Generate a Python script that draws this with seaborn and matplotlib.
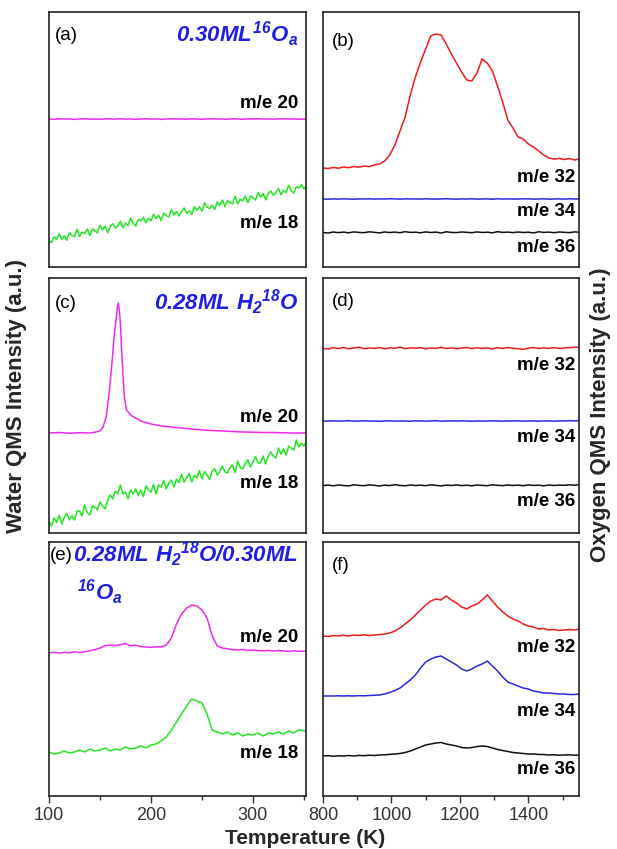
import matplotlib
matplotlib.use("Agg")
import matplotlib.pyplot as plt
import seaborn as sns

# ---------------- data (arbitrary intensity units, 0..255 per panel) ----------------
temp_water = list(range(100, 350, 5)) + [352]
temp_water_fine = [x / 2 for x in range(200, 701, 5)] + [352]
temp_oxy = list(range(800, 1540, 15)) + [1548]

a_m20 = [148.0,147.7,148.2,147.9,148.1,147.6,148.0,148.3,147.8,148.0,
         147.7,148.2,148.0,147.9,148.3,147.8,148.1,147.7,148.0,148.2,
         147.9,148.1,147.6,148.0,148.3,147.9,148.0,147.8,148.2,148.0,
         147.7,148.1,148.3,147.9,148.0,147.8,148.2,148.0,147.7,148.1,
         148.0,148.3,147.9,148.0,147.8,148.1,148.2,147.9,148.0,147.8,
         148.0]
a_m18 = [27,24.5,30.1,27.6,33.1,27.7,31.2,26.7,34.2,31.8,
         30.3,37.8,30.4,34.9,33.4,38.0,31.5,38.0,36.5,34.1,
         41.6,37.1,40.7,34.2,40.7,43.3,38.8,41.3,45.8,39.4,
         43.9,41.4,49.0,43.5,41.0,47.6,46.1,49.6,44.1,48.7,
         46.2,52.7,48.3,51.8,46.3,53.9,51.4,49.9,57.4,52.0,
         55.5,51.0,55.6,59.1,53.6,56.2,52.7,60.2,56.7,60.3,
         55.8,64.3,59.9,58.4,61.9,57.5,65.0,61.5,67.0,60.6,
         66.1,64.6,63.2,70.7,63.2,67.8,66.3,70.8,64.3,70.9,
         69.4,66.9,74.5,70.0,73.5,67.1,73.6,76.1,71.6,74.2,
         78.7,72.2,76.8,74.3,81.8,76.4,73.9,80.4,78.9,82.5,
         78.0,81]

c_m20_temp = [100,110,120,130,140,145,150,153,156,159,162,164,166,167,168,
              169,170,171,172,173,174,176,180,185,190,200,210,220,230,240,
              250,260,270,280,290,300,310,320,330,340,352]
c_m20 = [100,100.5,99.8,100.3,100,100.8,102,106,116,140,173,198,215,226,230,
         222,210,188,168,150,135,123,118,115,112,109,107,106,105,104,
         103,102.5,102,101.5,101,100.8,100.5,100.5,100.2,100,100]
c_m18 = [12,7,15,10.5,18,9,16,19.5,13,17,
         13,22,22,17,28,20.5,18,27,26,23,
         31,27,24,33,38,34,42,39,48,39,
         41,34,43,39,44,37.5,43,36.5,47,43,
         41,48.5,39,48,46,52.5,44,50,53,46,
         54,50.5,59,51,55,59.5,51,57.5,55,62.5,
         54,61.5,58,53.5,62,64.5,58,61.5,67,61,
         60,65.5,68,60.5,72,65.5,64,70,73,66,
         71,76.5,70,70,77,69,77,81,77,75,
         85,79,84,78,87,85,83,93,86,90,
         87,91]

e_m20 = [143,143.8,142.9,143.6,143.1,144.2,143.4,144.3,145.2,146.4,
         148,150.2,151,150.4,151.3,152.4,150.2,150.8,149.4,149,
         148.6,149.2,149,151,158,172,182,188,191,190,
         186,178,160,150,148,147.2,146.3,146.1,146.6,145.5,
         146.1,145.4,145.1,145.6,144.9,145.5,145.1,144.6,145.2,144.6,
         145]
e_m18 = [44,42,43,45,43,44,46,44,47,45,
         46,48,45,47,46,49,47,48,50,48,
         51,52,55,59,66,74,82,90,97,95,
         93,82,66,64,62,64,61,63,60,62,
         61,63,60,63,62,64,62,65,63,66,
         65]

b_m32 = [99,98.5,99.5,98.8,100,99.3,100.5,99.8,101,100.4,
         102,103,106,112,122,136,150,172,190,205,
         218,231,233,232,223,213,204,195,187,186,
         194,208,204,196,181,165,147,139,130,128,
         123,120,116,112,109,108,108.5,107.5,108.5,107,
         108]
b_m34 = [68.0,67.8,68.1,67.9,68.2,68.0,67.8,68.1,68.0,68.2,
         67.9,68.1,68.0,68.3,68.1,67.9,68.2,68.0,68.1,67.9,
         68.2,68.0,67.9,68.1,68.3,68.0,67.8,68.1,68.0,68.2,
         67.9,68.0,68.1,67.8,68.2,68.0,68.1,67.9,68.0,68.2,
         68.1,67.9,68.0,68.2,67.8,68.0,68.1,67.9,68.2,68.0,
         68.1]
b_m36 = [34.5,34.0,35.0,34.4,34.9,34.2,35.1,34.6,34.3,35.2,
         34.7,34.1,35.0,34.5,34.9,34.3,35.3,34.6,34.8,34.2,
         35.1,34.5,34.9,34.0,35.2,34.6,34.4,35.0,34.7,34.3,
         35.1,34.5,34.8,34.2,35.3,34.6,34.9,34.4,35.0,34.5,
         34.8,34.1,35.2,34.6,34.9,34.3,35.0,34.7,34.4,35.1,
         34.8]

d_m32 = [184.5,184.0,185.3,184.4,185.6,184.2,184.9,185.8,184.3,185.0,
         184.6,185.5,184.1,185.2,184.7,185.9,184.4,185.1,184.8,185.4,
         184.2,185.0,184.6,185.7,184.5,185.1,184.3,184.9,185.6,184.4,
         185.2,184.7,185.0,184.1,185.3,184.6,185.5,184.8,184.3,183.6,
         184.9,185.4,184.5,185.1,184.7,185.3,184.6,185.0,185.4,185.7,
         186.0]
d_m34 = [112.0,111.8,112.2,111.9,112.1,112.3,111.8,112.0,112.2,111.9,
         112.1,111.7,112.0,112.2,111.9,112.1,112.0,111.8,112.2,112.0,
         111.9,112.1,112.3,111.8,112.0,112.1,111.9,112.2,112.0,111.8,
         112.1,112.0,111.9,112.2,112.0,111.8,112.1,112.0,112.2,111.9,
         112.0,112.1,111.8,112.2,112.0,111.9,112.1,112.0,112.3,112.1,
         112.4]
d_m36 = [47.4,47.9,47.2,48.0,47.5,47.1,48.2,47.6,47.3,48.1,
         47.7,47.0,47.9,47.4,48.3,47.6,47.2,48.0,47.5,47.8,
         47.3,48.2,47.6,47.1,47.9,47.5,48.1,47.4,47.8,47.2,
         48.0,47.6,47.3,48.2,47.7,47.4,48.0,47.5,47.9,47.3,
         48.1,47.6,47.8,47.2,48.0,47.5,47.9,47.7,48.2,47.8,
         48.3]

f_m32 = [160,159.5,160.5,160,160.8,160,161,160.5,161.2,160.5,
         161,161.5,162,163,165,168,172,176,181,186,
         191,195,197,196,200,196,193,189,187,190,
         192,196,201,195,189,184,180,177,175,172,
         170,169,167,167.5,166,166.5,165.5,166,166.5,166,
         167]
f_m34 = [100,100,100,100.2,100,100.2,100,100.3,100.2,100.5,
         100.7,101,102,103.5,105.5,108,112,116,121,128,
         134,137,139,140,137,134,131,127,125,127,
         130,132,135,130,125,119,114,112,110,108,
         107,105,104,103,103,102.5,102,102,101.5,101.5,
         102]
f_m36 = [40,40.3,39.8,40.2,40,40.5,40,40.6,40.3,40.8,
         40.5,41,41.2,41.6,42,42.5,43.5,45,47,49,
         51,52,53,53.5,52,51,50,48.5,48,48.5,
         49.5,50,49.5,48,46.5,45.5,44.5,43.5,43,42.5,
         42,42,41.5,41.5,41,41.2,40.8,41,41.2,40.8,
         41]

water_ticks = [100, 200, 300]
water_minor = [150, 250, 350]
oxy_ticks = [800, 1000, 1200, 1400]
oxy_minor = [900, 1100, 1300, 1500]

# ---------------- style ----------------
sns.set_theme(style="white")
plt.rcParams['font.family'] = ['Liberation Sans', 'DejaVu Sans']
plt.rcParams['mathtext.fontset'] = 'custom'
for k in ('rm', 'it', 'bf', 'sf'):
    plt.rcParams['mathtext.' + k] = 'Liberation Sans:bold:italic'

PINK = '#f028f0'
GREEN = '#22e622'
RED = '#ec1c1c'
BLUE = '#2828dc'
BLACK = '#111111'
TITLE_BLUE = '#1e1ee6'
LW = 1.1

fig = plt.figure(figsize=(6.17, 8.49), dpi=100)

colL, wL = 49/617, 257/617
colR, wR = 323/617, 256/617
rows = [(1-267/849, 255/849), (1-533/849, 255/849), (1-796/849, 254/849)]

axes = {}
for r, (b, h) in enumerate(rows):
    axes[(r, 0)] = fig.add_axes([colL, b, wL, h])
    axes[(r, 1)] = fig.add_axes([colR, b, wR, h])

for (r, c), ax in axes.items():
    ax.set_xlim(*((100, 352) if c == 0 else (800, 1548)))
    ax.set_ylim(0, 255 if r < 2 else 254)
    ax.set_yticks([])
    for s in ax.spines.values():
        s.set_color('#222222')
        s.set_linewidth(1.2)
    if r < 2:
        ax.set_xticks([])
    else:
        if c == 0:
            ax.set_xticks(water_ticks)
            ax.set_xticks(water_minor, minor=True)
        else:
            ax.set_xticks(oxy_ticks)
            ax.set_xticks(oxy_minor, minor=True)
        ax.tick_params(axis='x', which='major', direction='out', length=5, width=1,
                       color='#333333', labelsize=13, labelcolor='#333333', pad=3, bottom=True)
        ax.tick_params(axis='x', which='minor', direction='out', length=3, width=1,
                       color='#333333', bottom=True)


def line(ax, x, y, color):
    sns.lineplot(x=x, y=y, ax=ax, color=color, linewidth=LW, errorbar=None)
    ax.set_xlabel('')
    ax.set_ylabel('')


def lab(ax, xf, y, s, ha='right', va='center', size=13.5, weight='bold', color='black'):
    ax.text(xf, y, s, transform=ax.get_yaxis_transform(), ha=ha, va=va,
            fontsize=size, fontweight=weight, color=color)


TS = 16  # title size

# (a)
ax = axes[(0, 0)]
line(ax, temp_water, a_m20, PINK)
line(ax, temp_water_fine, a_m18, GREEN)
lab(ax, 0.023, 232, '(a)', ha='left', weight='normal')
lab(ax, 0.969, 225, r'$0.30ML^{16}O_a$', va='baseline', size=TS, color=TITLE_BLUE)
lab(ax, 0.969, 163, 'm/e 20')
lab(ax, 0.969, 44, 'm/e 18')

# (b)
ax = axes[(0, 1)]
line(ax, temp_oxy, b_m32, RED)
line(ax, temp_oxy, b_m34, BLUE)
line(ax, temp_oxy, b_m36, BLACK)
lab(ax, 0.035, 225, '(b)', ha='left', weight='normal')
lab(ax, 0.984, 90, 'm/e 32')
lab(ax, 0.984, 55, 'm/e 34')
lab(ax, 0.984, 20, 'm/e 36')

# (c)
ax = axes[(1, 0)]
line(ax, c_m20_temp, c_m20, PINK)
line(ax, temp_water_fine, c_m18, GREEN)
lab(ax, 0.023, 230, '(c)', ha='left', weight='normal')
lab(ax, 0.969, 223, r'$0.28ML\ H_2{}^{18}O$', va='baseline', size=TS, color=TITLE_BLUE)
lab(ax, 0.969, 115, 'm/e 20')
lab(ax, 0.969, 50, 'm/e 18')

# (d)
ax = axes[(1, 1)]
line(ax, temp_oxy, d_m32, RED)
line(ax, temp_oxy, d_m34, BLUE)
line(ax, temp_oxy, d_m36, BLACK)
lab(ax, 0.035, 231, '(d)', ha='left', weight='normal')
lab(ax, 0.984, 167, 'm/e 32')
lab(ax, 0.984, 96, 'm/e 34')
lab(ax, 0.984, 32, 'm/e 36')

# (e)
ax = axes[(2, 0)]
line(ax, temp_water, e_m20, PINK)
line(ax, temp_water, e_m18, GREEN)
lab(ax, 0.005, 241, '(e)', ha='left', weight='normal')
lab(ax, 0.093, 234, r'$0.28ML\ H_2{}^{18}O/0.30ML$', ha='left', va='baseline', size=TS, color=TITLE_BLUE)
lab(ax, 0.109, 196, r'$^{16}O_a$', ha='left', va='baseline', size=TS, color=TITLE_BLUE)
lab(ax, 0.969, 159, 'm/e 20')
lab(ax, 0.969, 43, 'm/e 18')

# (f)
ax = axes[(2, 1)]
line(ax, temp_oxy, f_m32, RED)
line(ax, temp_oxy, f_m34, BLUE)
line(ax, temp_oxy, f_m36, BLACK)
lab(ax, 0.035, 231, '(f)', ha='left', weight='normal')
lab(ax, 0.984, 149, 'm/e 32')
lab(ax, 0.984, 84, 'm/e 34')
lab(ax, 0.984, 26, 'm/e 36')

fig.text(0.495, 0.012, 'Temperature (K)', ha='center', va='center', fontsize=15, fontweight='bold')
fig.text(0.027, 1-396/849, 'Water QMS Intensity (a.u.)', rotation=90, ha='center', va='center',
         fontsize=16, fontweight='bold')
fig.text(0.974, 1-415/849, 'Oxygen QMS Intensity (a.u.)', rotation=90, ha='center', va='center',
         fontsize=16, fontweight='bold')

fig.savefig('out.png', dpi=100)
